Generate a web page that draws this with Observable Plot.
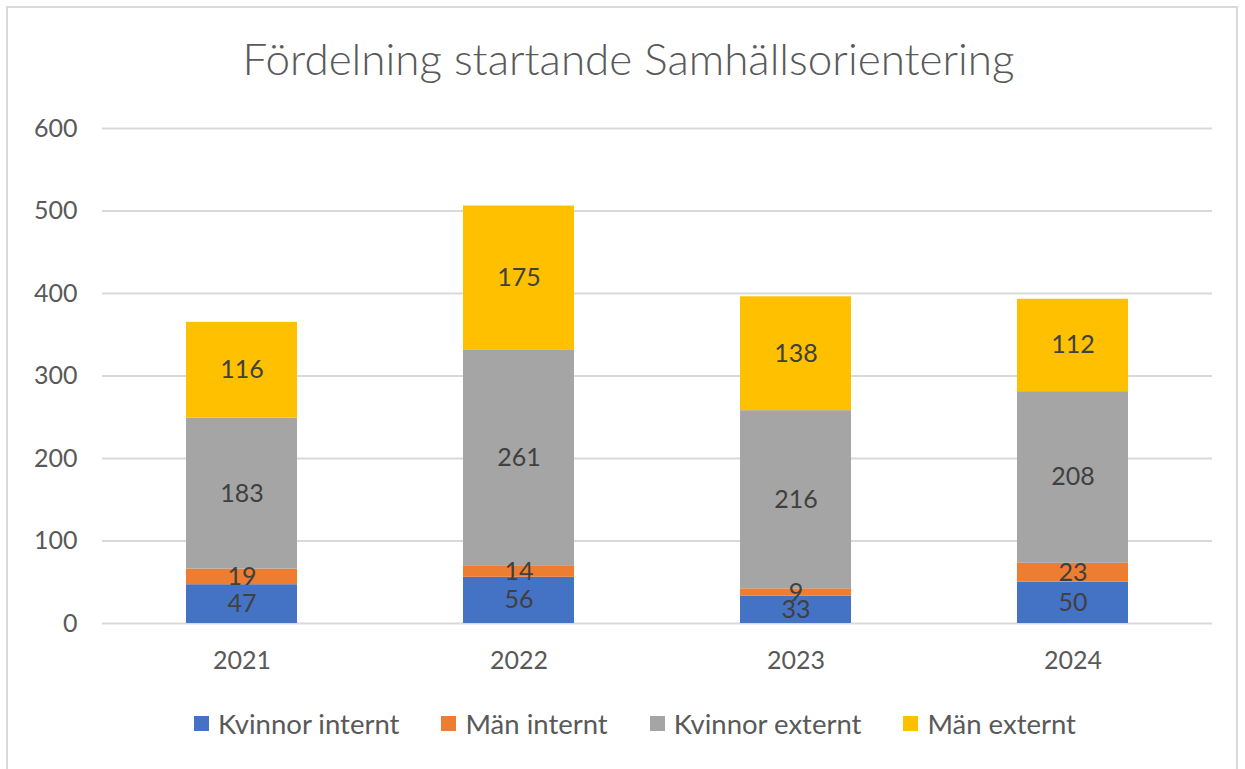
<!DOCTYPE html>
<html>
<head>
<meta charset="utf-8">
<script src="https://cdn.jsdelivr.net/npm/d3@7"></script>
<script src="https://cdn.jsdelivr.net/npm/@observablehq/plot@0.6"></script>
<style>
  html, body { margin: 0; padding: 0; background: #fff; }
  body { width: 1245px; height: 769px; position: relative; overflow: hidden; font-family: Lato, "Open Sans", sans-serif; }
  #frame { position: absolute; left: 6px; top: 6px; width: 1232px; height: 770px; border: 2px solid #d9d9d9; box-sizing: border-box; }
  #title { position: absolute; left: 6px; width: 1245px; top: 34px; text-align: center; font-size: 44px; color: #595959; font-weight: 300; line-height: 1.1; }
  #chart { position: absolute; left: 0; top: 100px; }
  #legend { position: absolute; left: 0; width: 1270px; top: 707px; display: flex; justify-content: center; gap: 42px; font-size: 27.5px; color: #595959; }
  .item { display: flex; align-items: center; gap: 9px; }
  .sw { width: 15px; height: 15px; display: inline-block; }
</style>
</head>
<body>
<div id="frame"></div>
<div id="title">Fördelning startande Samhällsorientering</div>
<div id="chart"></div>
<div id="legend"></div>
<script>
const years = ["2021", "2022", "2023", "2024"];
const seriesNames = ["Kvinnor internt", "Män internt", "Kvinnor externt", "Män externt"];
const colors = ["#4472C4", "#ED7D31", "#A5A5A5", "#FFC000"];
const kvinnorInternt = [47, 56, 33, 50];
const manInternt = [19, 14, 9, 23];
const kvinnorExternt = [183, 261, 216, 208];
const manExternt = [116, 175, 138, 112];
const yTicks = [0, 100, 200, 300, 400, 500, 600];

const seriesValues = [kvinnorInternt, manInternt, kvinnorExternt, manExternt];
const data = [];
seriesNames.forEach((s, i) => years.forEach((yr, j) => data.push({year: yr, series: s, value: seriesValues[i][j]})));

const stackOpts = {x: "year", y: "value", z: "series", order: seriesNames};

const chart = Plot.plot({
  width: 1245,
  height: 590,
  marginLeft: 102,
  marginRight: 33,
  marginTop: 28,
  marginBottom: 67,
  style: {fontFamily: "Lato, 'Open Sans', sans-serif", fontSize: "25px", color: "#595959", background: "transparent"},
  x: {domain: years, paddingInner: 0.6, paddingOuter: 0.3, label: null, tickSize: 0, tickPadding: 28},
  y: {domain: [0, 600], ticks: yTicks, label: null, tickSize: 0, tickPadding: 25},
  color: {domain: seriesNames, range: colors},
  marks: [
    Plot.gridY(yTicks, {stroke: "#d9d9d9", strokeOpacity: 1, strokeWidth: 2}),
    Plot.barY(data, Plot.stackY({...stackOpts, fill: "series"})),
    Plot.text(data, Plot.stackY({...stackOpts, text: d => String(d.value), fill: "#404040", fontSize: 25})),
  ]
});
document.getElementById("chart").appendChild(chart);

const legend = document.getElementById("legend");
seriesNames.forEach((s, i) => {
  const item = document.createElement("div");
  item.className = "item";
  const sw = document.createElement("span");
  sw.className = "sw";
  sw.style.background = colors[i];
  const t = document.createElement("span");
  t.textContent = s;
  item.appendChild(sw);
  item.appendChild(t);
  legend.appendChild(item);
});
</script>
</body>
</html>
